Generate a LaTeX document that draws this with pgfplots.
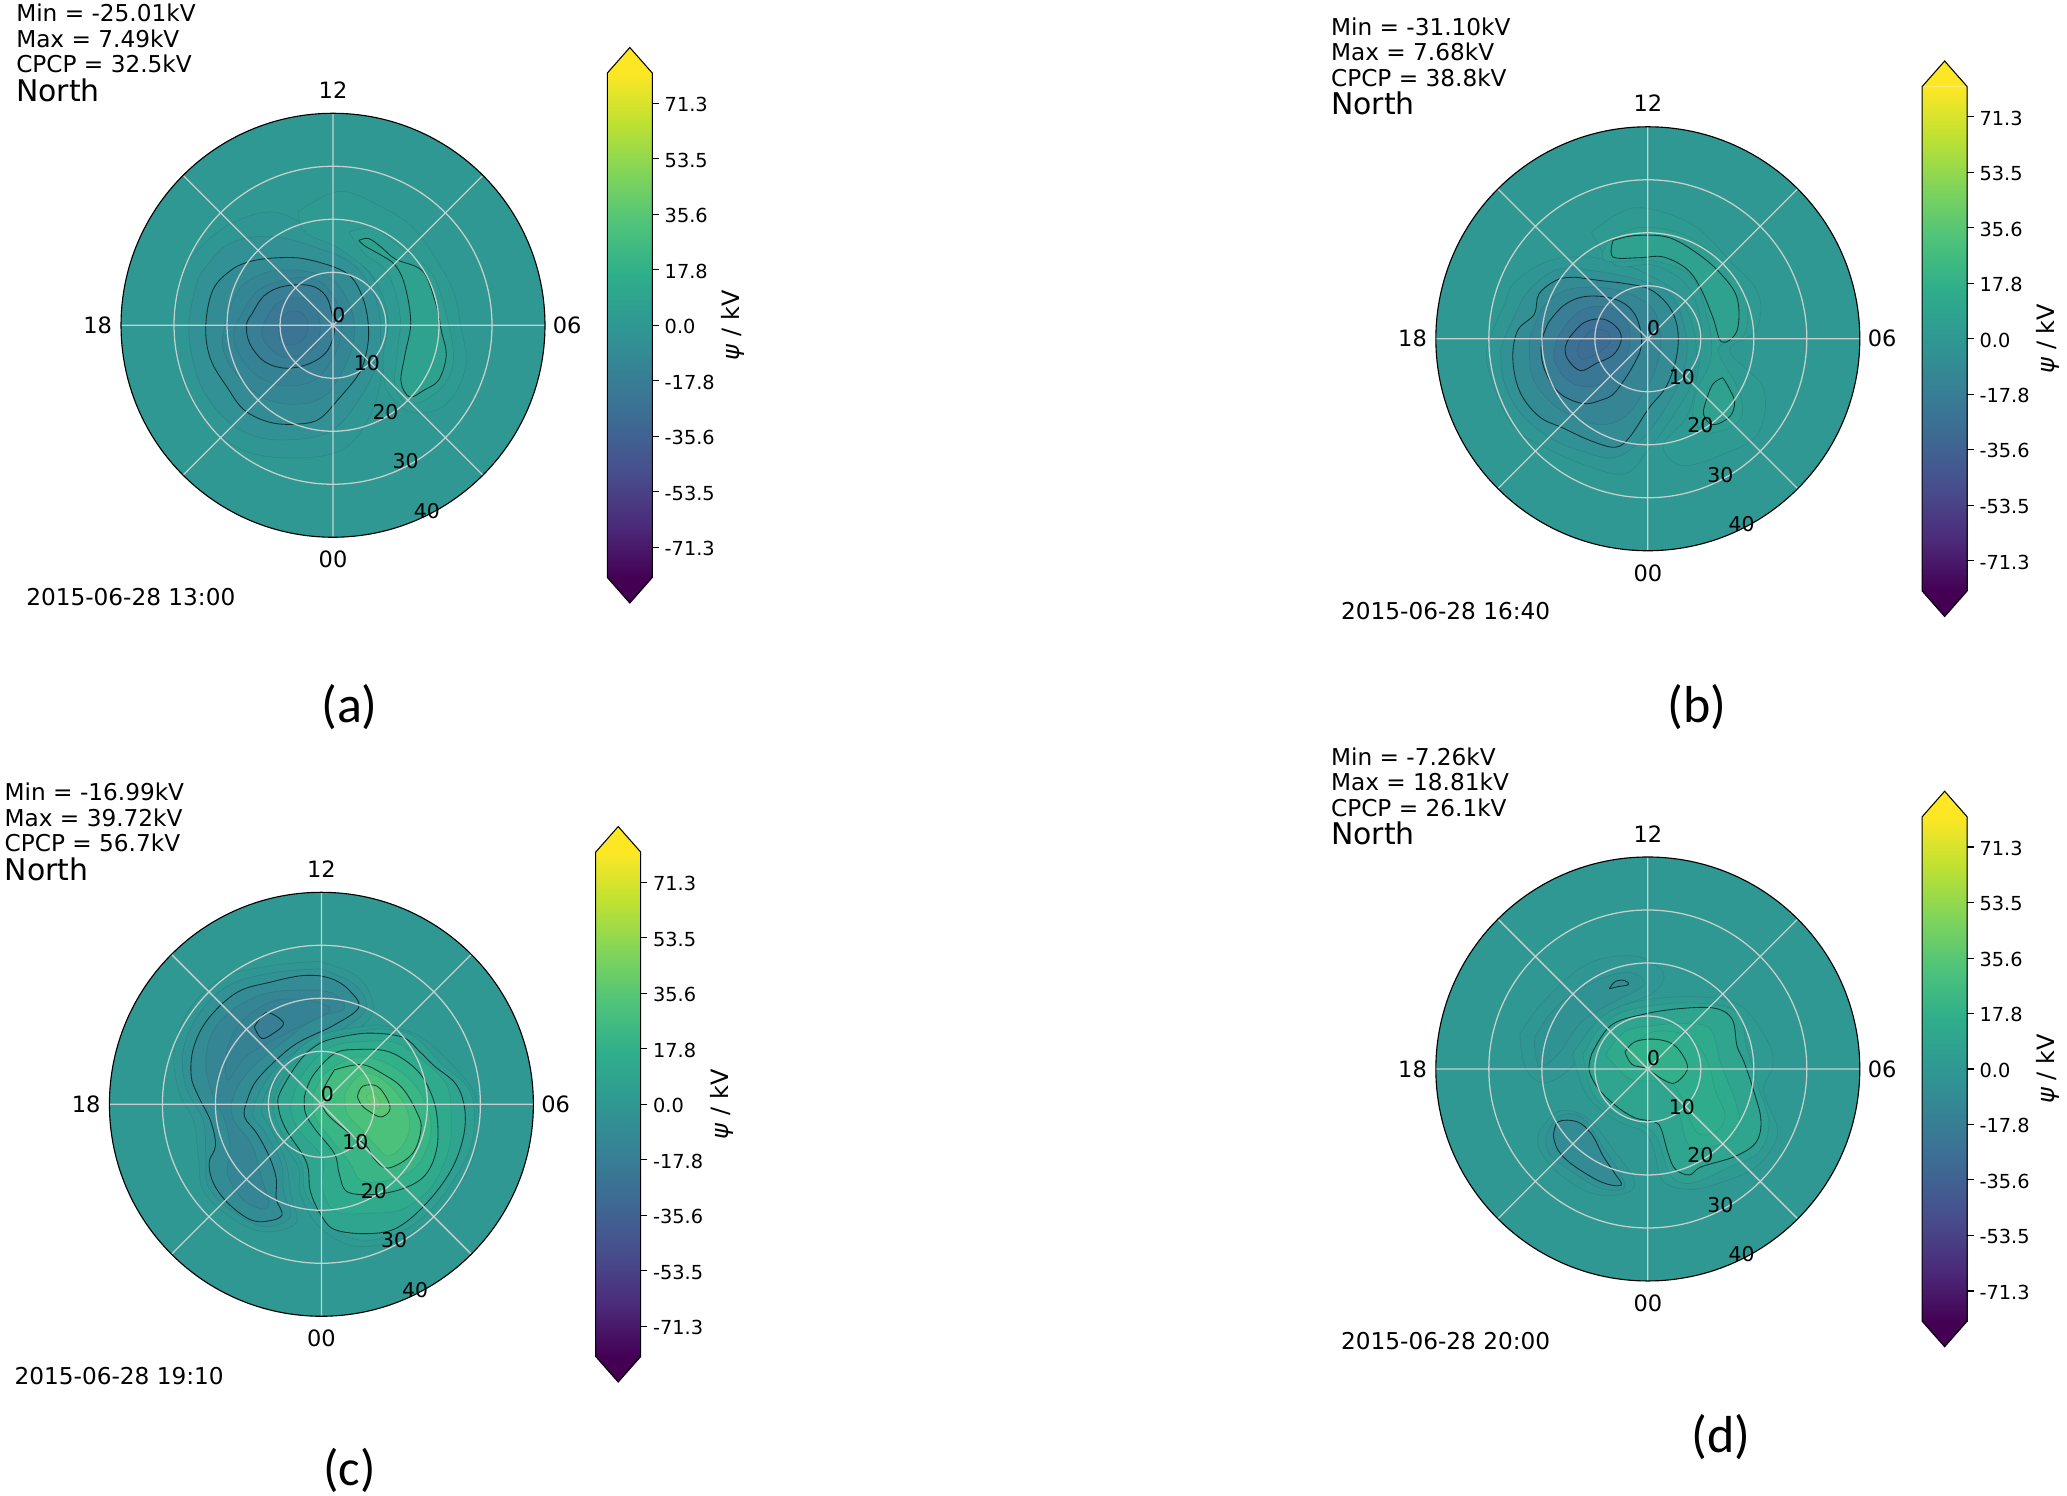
\documentclass[border=0pt]{standalone}
\usepackage{fontspec}
\usepackage{pgfplots}
\pgfplotsset{compat=1.18}
\setmainfont{DejaVu Sans}
\newfontfamily\capfont{Carlito}
% one reference pixel = 0.1mm; contours are traced in crop pixels and mapped to degrees by the filters
\pgfplotsset{colormap={vir}{rgb255=(68,1,84) rgb255=(76,42,122) rgb255=(72,76,140) rgb255=(62,104,147) rgb255=(55,128,149) rgb255=(47,152,147) rgb255=(47,174,139) rgb255=(78,195,122) rgb255=(128,212,90) rgb255=(190,225,50) rgb255=(253,231,37)}}
\newcommand{\poly}[2]{\addplot[smooth,tension=0.6,color of colormap={#1 of vir},fill=.,draw=black,draw opacity=0.08,line width=0.2pt] coordinates {#2};}
\newcommand{\cont}[2]{\addplot[smooth,tension=0.6,color of colormap={#1 of vir},fill=.,draw=black!85!teal,draw opacity=0.75,line width=0.24pt] coordinates {#2};}
\tikzset{hour/.style={font=\fontsize{6.4}{7}\selectfont},rad/.style={font=\fontsize{5.8}{6}\selectfont},
  head/.style={anchor=west,inner sep=0pt,font=\fontsize{6.6}{7}\selectfont}}
% #1 cx, #2 cy (page px), #3 crop cx, #4 crop cy, #5 crop px per degree in x, #6 #7 min max, #8 contours
\newcommand{\panel}[8]{%
\begin{axis}[
  at={({#1*0.1mm},{(1496-#2)*0.1mm})},anchor=center,
  scale only axis,width=42.4mm,height=42.4mm,
  xmin=-40,xmax=40,ymin=-40,ymax=40,
  hide axis,clip=false,
  x filter/.expression={(x-#3)/#5},
  y filter/.expression={(#4-y)/12.95},
]
\fill[color of colormap={500 of vir},fill=.] (axis cs:0,0) circle [radius=40];
#8
\draw[white!68!gray,draw opacity=0.9,line width=0.36pt] (axis cs:0,0) circle [radius=10] (axis cs:0,0) circle [radius=20] (axis cs:0,0) circle [radius=30];
\draw[white!68!gray,draw opacity=0.9,line width=0.36pt] (axis cs:-40,0) -- (axis cs:40,0) (axis cs:0,-40) -- (axis cs:0,40)
  (axis cs:-28.28,-28.28) -- (axis cs:28.28,28.28) (axis cs:-28.28,28.28) -- (axis cs:28.28,-28.28);
\draw[black,line width=0.32pt] (axis cs:0,0) circle [radius=40];
\node[hour] at (axis cs:0,44.4) {12};
\node[hour] at (axis cs:0,-44.2) {00};
\node[hour] at (axis cs:-44.4,0) {18};
\node[hour] at (axis cs:44.2,0) {06};
\node[rad] at (axis cs:1.1,2) {0};
\node[rad] at (axis cs:6.4,-7.2) {10};
\node[rad] at (axis cs:9.9,-16.3) {20};
\node[rad] at (axis cs:13.7,-25.7) {30};
\node[rad] at (axis cs:17.7,-35) {40};
\node[head] at (axis cs:-59.9,58.9) {Min = #6kV};
\node[head] at (axis cs:-59.9,54.1) {Max = #7kV};
\node[head] at (axis cs:-59.9,49.25) {CPCP = \cpcp kV};
\node[head,font=\fontsize{8.5}{9}\selectfont] at (axis cs:-59.9,44.4) {North};
\node[head] at (axis cs:-58,-51.3) {2015-06-28 \stamp};
\end{axis}
\begin{axis}[
  at={({(#1+296.8)*0.1mm},{(1496-#2)*0.1mm})},anchor=center,
  scale only axis,width=4.5mm,height=50.44mm,
  view={0}{90},clip=false,
  colormap name=vir,
  xmin=0,xmax=1,ymin=-81,ymax=81,
  xtick=\empty,
  ytick={-71.3,-53.5,-35.6,-17.8,0,17.8,35.6,53.5,71.3},
  yticklabels={-71.3,-53.5,-35.6,-17.8,0.0,17.8,35.6,53.5,71.3},
  ytick pos=right,yticklabel pos=right,tick align=outside,
  major tick length=0.65mm,
  tick style={black,line width=0.3pt},
  axis line style={draw=none},
  yticklabel style={font=\fontsize{5.5}{6}\selectfont,xshift=-0.65mm,yshift=-0.13mm},
  ylabel={\textit{ψ} / kV},
  ylabel style={font=\fontsize{6.8}{7}\selectfont,at={(axis description cs:2.8,0.5)},anchor=center,rotate=0},
  point meta min=-81,point meta max=81,
]
\addplot3[surf,shader=interp,mesh/rows=2,point meta=y] coordinates {(0,-81,0) (1,-81,0) (0,81,0) (1,81,0)};
\fill[viridisTop] (axis cs:0,81) -- (axis cs:0.5,89.2) -- (axis cs:1,81) -- cycle;
\fill[viridisBot] (axis cs:0,-81) -- (axis cs:0.5,-89.2) -- (axis cs:1,-81) -- cycle;
\draw[black,line width=0.3pt] (axis cs:0,81) -- (axis cs:0.5,89.2) -- (axis cs:1,81) -- (axis cs:1,-81) -- (axis cs:0.5,-89.2) -- (axis cs:0,-81) -- cycle;
\end{axis}
}
\definecolor{viridisTop}{HTML}{FDE725}
\definecolor{viridisBot}{HTML}{440154}
\begin{document}
\begin{tikzpicture}
\useasboundingbox (0,0) rectangle (206.7mm,149.6mm);
% panel a
\def\cpcp{32.5}\def\stamp{13:00}
\panel{333}{325.3}{687}{797}{10.91}{-25.01}{7.49}{%
\poly{490}{(380,650)(460,560)(560,520)(640,560)(690,600)(740,640)(790,720)(800,800)(790,900)(770,1000)(720,1090)(640,1120)(520,1110)(440,1050)(380,940)(360,800)(380,650)}
\poly{470}{(410,680)(470,600)(560,580)(660,610)(730,650)(775,730)(785,820)(775,900)(740,980)(690,1050)(620,1075)(530,1070)(460,1020)(410,930)(390,800)(410,680)}
\cont{445}{(560,633)(620,633)(690,655)(725,680)(745,720)(757,770)(760,830)(750,890)(735,925)(700,975)(660,1025)(620,1038)(560,1035)(505,1005)(470,950)(435,880)(425,800)(440,710)(480,660)(520,640)(560,633)}
\poly{426}{(470,770)(500,700)(560,665)(630,665)(690,690)(725,760)(730,830)(710,900)(670,970)(610,990)(545,975)(490,920)(460,850)(470,770)}
\poly{407}{(495,780)(530,715)(590,685)(650,685)(690,730)(705,800)(690,870)(650,930)(590,945)(530,920)(490,860)(483,810)(495,780)}
\cont{390}{(520,770)(545,725)(585,702)(640,700)(672,725)(685,770)(690,810)(675,860)(640,890)(590,902)(545,885)(515,840)(509,795)(520,770)}
\poly{373}{(545,790)(570,745)(610,730)(645,745)(660,790)(655,840)(625,870)(585,875)(555,850)(540,820)(545,790)}
\poly{358}{(575,790)(595,765)(620,765)(635,790)(630,825)(605,845)(580,835)(575,790)}
\poly{510}{(615,520)(700,470)(790,510)(860,570)(930,700)(950,800)(960,900)(920,990)(850,1010)(800,960)(790,880)(800,780)(770,680)(700,610)(630,570)(615,520)}
\poly{525}{(720,570)(770,560)(830,610)(890,670)(920,770)(935,880)(910,950)(850,990)(815,950)(820,860)(825,770)(800,670)(750,620)(720,570)}
\cont{548}{(740,590)(760,585)(785,605)(815,635)(860,655)(880,680)(900,750)(910,810)(920,870)(905,930)(875,955)(845,972)(827,935)(835,870)(847,790)(835,700)(815,650)(785,625)(755,605)(740,590)}
}
% panel b
\def\cpcp{38.8}\def\stamp{16:40}
\panel{1647.8}{338.8}{688}{830}{11.11}{-31.10}{7.68}{%
\poly{490}{(390,740)(410,690)(480,640)(560,630)(640,650)(700,680)(750,720)(780,790)(790,870)(780,940)(740,1020)(690,1100)(640,1160)(560,1140)(480,1100)(410,1050)(370,960)(350,860)(390,740)}
\poly{470}{(380,850)(410,770)(440,710)(500,660)(580,665)(680,690)(740,730)(768,820)(765,900)(730,990)(680,1070)(620,1120)(550,1105)(480,1070)(420,1010)(385,930)(380,850)}
\cont{445}{(540,680)(590,688)(640,695)(690,708)(725,740)(745,780)(752,830)(745,890)(725,950)(690,1000)(650,1070)(620,1095)(570,1080)(510,1048)(460,1020)(420,960)(405,880)(415,810)(450,770)(460,720)(500,685)(540,680)}
\poly{420}{(440,830)(470,750)(520,710)(590,705)(650,720)(700,760)(715,830)(705,900)(680,960)(640,1020)(590,1040)(530,1020)(480,980)(445,920)(440,830)}
\cont{390}{(480,790)(510,750)(550,728)(600,728)(640,745)(665,780)(675,840)(660,890)(620,960)(590,980)(550,988)(500,960)(470,900)(465,840)(480,790)}
\poly{364}{(495,840)(520,790)(560,755)(610,755)(645,790)(650,840)(635,890)(590,940)(545,945)(510,920)(492,880)(495,840)}
\cont{335}{(525,825)(555,790)(595,782)(625,805)(632,835)(615,870)(580,890)(547,908)(520,880)(515,850)(525,825)}
\poly{321}{(545,840)(570,810)(600,810)(610,835)(590,860)(555,880)(540,865)(545,840)}
\poly{510}{(570,570)(660,510)(780,550)(860,640)(920,720)(915,810)(860,860)(930,950)(920,1060)(850,1110)(760,1140)(720,1090)(770,1020)(790,930)(800,800)(770,700)(700,650)(620,650)(570,570)}
\poly{528}{(600,600)(660,560)(750,570)(820,620)(890,720)(890,820)(835,855)(880,960)(880,1030)(820,1060)(785,1030)(790,960)(820,880)(815,790)(780,680)(700,640)(600,640)(600,600)}
\cont{548}{(615,590)(660,578)(730,582)(790,620)(840,670)(875,730)(875,810)(843,838)(825,780)(800,710)(770,660)(720,630)(670,632)(615,630)(615,590)}
\cont{548}{(845,925)(858,950)(870,985)(860,1020)(825,1040)(805,1015)(812,975)(825,940)(845,925)}
}
% panel c
\def\cpcp{56.7}\def\stamp{19:10}
\panel{321.4}{1104.3}{663}{819}{10.91}{-16.99}{39.72}{%
\poly{490}{(660,470)(560,480)(460,510)(390,590)(360,690)(370,790)(400,860)(410,950)(420,1030)(470,1090)(540,1130)(610,1110)(600,1040)(590,960)(560,880)(540,830)(570,750)(640,690)(720,650)(770,590)(740,510)(660,470)}
\poly{470}{(660,488)(560,498)(470,530)(410,600)(378,690)(385,780)(420,860)(425,950)(430,1020)(480,1080)(545,1118)(598,1095)(585,1030)(580,960)(545,885)(522,840)(550,760)(610,690)(700,640)(755,585)(730,525)(660,488)}
\cont{445}{(660,505)(620,505)(560,520)(490,545)(430,610)(400,680)(395,750)(410,800)(435,860)(445,920)(432,960)(440,1010)(470,1060)(515,1100)(550,1105)(582,1090)(570,1050)(570,1000)(555,945)(530,890)(505,850)(510,810)(530,760)(580,700)(620,665)(690,625)(740,582)(720,540)(690,515)(660,505)}
\poly{420}{(650,540)(560,545)(490,580)(440,640)(425,720)(440,800)(465,860)(475,930)(470,990)(500,1050)(540,1075)(555,1060)(540,1000)(520,920)(480,850)(485,790)(520,730)(580,670)(650,610)(710,585)(690,550)(650,540)}
\poly{407}{(640,565)(570,565)(505,610)(470,680)(470,760)(510,700)(600,640)(680,590)(640,565)}
\cont{390}{(525,630)(550,595)(585,620)(565,645)(540,658)(525,630)}
\poly{510}{(780,625)(860,650)(930,720)(980,800)(985,900)(960,990)(900,1090)(820,1150)(730,1165)(660,1120)(620,1040)(615,970)(565,880)(555,810)(590,720)(660,650)(780,625)}
\poly{530}{(780,635)(850,650)(910,720)(970,790)(975,900)(945,985)(890,1075)(820,1135)(740,1150)(675,1110)(630,1035)(622,965)(578,880)(565,810)(600,730)(670,660)(780,635)}
\cont{555}{(700,655)(760,645)(830,655)(865,690)(895,725)(940,770)(958,830)(955,900)(930,980)(880,1060)(820,1120)(760,1135)(690,1125)(660,1085)(640,1030)(632,960)(590,880)(575,830)(578,790)(620,710)(660,670)(700,655)}
\poly{580}{(605,800)(625,745)(680,680)(760,665)(820,670)(870,710)(920,770)(930,850)(925,930)(890,1020)(830,1075)(760,1085)(690,1080)(665,1020)(665,950)(615,880)(600,830)(605,800)}
\cont{610}{(628,800)(645,750)(690,695)(740,685)(800,690)(850,725)(880,770)(900,840)(900,930)(870,1000)(800,1035)(720,1035)(700,990)(690,940)(650,880)(630,840)(628,800)}
\poly{636}{(645,800)(670,745)(730,705)(790,715)(850,765)(885,840)(885,910)(855,975)(800,1005)(745,1005)(720,960)(680,900)(650,850)(645,800)}
\cont{665}{(690,735)(745,722)(790,745)(830,780)(860,840)(868,880)(850,940)(800,975)(770,950)(755,920)(710,880)(670,835)(665,790)(690,735)}
\poly{691}{(712,790)(745,745)(785,755)(830,810)(845,870)(830,920)(800,945)(775,920)(745,880)(715,840)(712,790)}
\cont{720}{(737,800)(748,775)(778,775)(800,810)(803,835)(785,850)(760,835)(745,820)(737,800)}
\poly{735}{(755,800)(770,790)(785,815)(780,830)(765,820)(755,800)}
}
% panel d
\def\cpcp{26.1}\def\stamp{20:00}
\panel{1647.8}{1069}{688}{806}{11.11}{-7.26}{18.81}{%
\poly{490}{(420,720)(470,640)(560,550)(660,530)(720,570)(700,620)(620,660)(560,720)(530,800)(470,840)(430,800)(420,720)}
\poly{475}{(450,730)(500,650)(580,590)(650,570)(680,600)(620,640)(550,690)(500,770)(460,800)(450,730)}
\cont{445}{(607,610)(620,592)(640,590)(647,600)(625,605)(607,610)}
\poly{490}{(460,960)(500,910)(560,925)(620,1010)(660,1080)(640,1110)(570,1110)(500,1060)(460,1000)(460,960)}
\poly{472}{(475,965)(505,920)(550,925)(590,990)(640,1090)(590,1098)(520,1050)(480,1010)(475,965)}
\cont{445}{(490,970)(500,935)(540,935)(570,965)(595,1020)(618,1060)(632,1090)(590,1082)(530,1040)(500,1005)(490,970)}
\poly{510}{(530,770)(590,680)(670,640)(790,630)(880,650)(940,740)(950,800)(930,860)(960,960)(920,1040)(850,1080)(780,1100)(720,1080)(700,1000)(680,960)(620,930)(560,870)(530,770)}
\poly{530}{(552,770)(600,690)(675,655)(790,645)(875,668)(895,750)(920,850)(942,940)(920,1010)(860,1045)(780,1085)(735,1065)(710,980)(680,945)(610,910)(570,860)(552,770)}
\cont{555}{(570,770)(610,700)(680,672)(760,658)(830,658)(865,685)(875,750)(890,790)(910,860)(925,930)(915,985)(870,1020)(800,1045)(775,1065)(745,1050)(730,1010)(715,950)(700,935)(660,925)(620,895)(585,855)(565,810)(570,770)}
\poly{580}{(600,770)(640,715)(700,700)(770,695)(820,710)(840,790)(870,880)(880,940)(860,980)(800,1000)(770,985)(750,900)(720,840)(650,830)(600,770)}
\poly{593}{(650,755)(700,715)(770,725)(810,780)(830,860)(850,920)(830,960)(790,960)(760,880)(730,830)(650,755)}
\cont{610}{(640,765)(660,740)(700,733)(740,745)(765,780)(770,810)(745,840)(720,832)(685,805)(655,795)(640,765)}
}
% sub-figure captions
\node[font=\capfont\fontsize{14.8}{16}\selectfont] at (34.95mm,78.85mm) {(a)};
\node[font=\capfont\fontsize{14.8}{16}\selectfont] at (169.7mm,78.85mm) {(b)};
\node[font=\capfont\fontsize{14.5}{16}\selectfont] at (34.95mm,2.55mm) {(c)};
\node[font=\capfont\fontsize{14.8}{16}\selectfont] at (172.1mm,5.9mm) {(d)};
\end{tikzpicture}
\end{document}
